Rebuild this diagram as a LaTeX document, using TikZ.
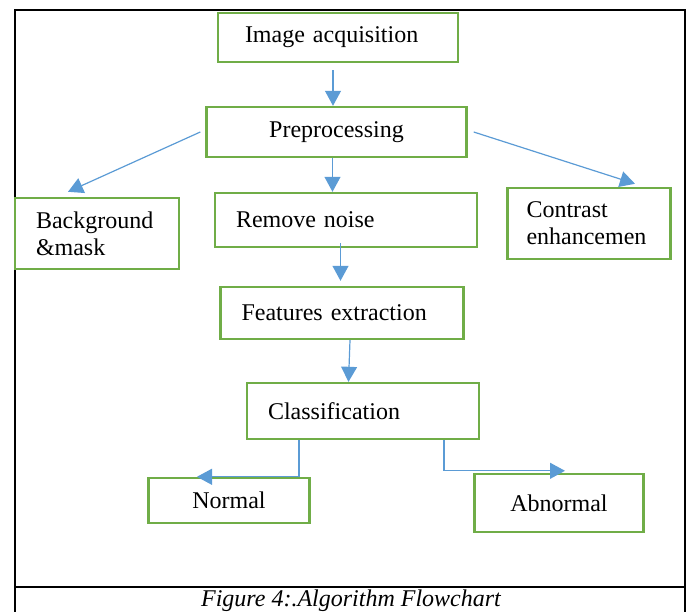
\documentclass[tikz,border=0pt]{standalone}
\usepackage{fontspec}
\setmainfont{Liberation Serif}
\usetikzlibrary{arrows.meta}

\definecolor{boxgreen}{RGB}{112,173,71}
\definecolor{arrblue}{RGB}{91,155,213}

\tikzset{
  stage/.style={draw=boxgreen, line width=2.4pt, rectangle, inner ysep=0pt,
    font=\fontsize{24}{27}\selectfont},
  flow/.style={draw=arrblue, line width=1.2pt, -{Triangle[length=15pt,width=16pt]}, arrblue}
}

\begin{document}
\begin{tikzpicture}[x=1pt, y=-1pt]

\useasboundingbox (0,0) rectangle (689,612);

% outer frame and caption rule
\draw[line width=2pt] (15,612) -- (15,10) -- (685,10) -- (685,612);
\draw[line width=2pt] (15,587) -- (685,587);

% boxes
\node[stage, text width=186pt, inner xsep=27pt, minimum height=49pt, align=left] (img) at (338,37.5) {Image acquisition};
\node[stage, text width=240pt, inner xsep=10pt, minimum height=50pt, align=center] (pre) at (336.5,132) {Preprocessing};
\node[stage, text width=122pt, inner xsep=21pt, minimum height=71pt, align=left] (bg) at (97,233.5) {Background\\\&mask};
\node[stage, text width=220pt, inner xsep=21pt, minimum height=54pt, align=left] (rn) at (346,220) {Remove noise};
\node[stage, text width=125pt, inner xsep=19pt, minimum height=71pt, align=left] (ct) at (589,223.5) {Contrast\\enhancemen};
\node[stage, text width=201pt, inner xsep=21pt, minimum height=52pt, align=left] (fe) at (342,313) {Features extraction};
\node[stage, text width=190pt, inner xsep=21pt, minimum height=56pt, align=left] (cls) at (363,411) {Classification};
\node[stage, text width=141pt, inner xsep=10pt, minimum height=45pt, align=center] (nor) at (229,500.5) {Normal};
\node[stage, text width=149pt, inner xsep=10pt, minimum height=58pt, align=center] (abn) at (559,503) {Abnormal};

% connectors
\draw[flow] ([xshift=-5pt,yshift=-7pt]img.south) -- ([xshift=-5pt]img.south |- pre.north);
\draw[flow] ([xshift=-5pt]pre.west) -- ([xshift=-29pt,yshift=5pt]bg.north);
\draw[flow] ([xshift=-4pt]pre.south) -- ([xshift=-4pt]pre.south |- rn.north);
\draw[flow] ([xshift=6pt]pre.east) -- ([xshift=46pt,yshift=3pt]ct.north);
\draw[flow] ([xshift=-5.5pt,yshift=5pt]rn.south) -- ([xshift=-5.5pt,yshift=5pt]rn.south |- fe.north);
\draw[flow] ([xshift=8pt]fe.south) -- ([xshift=-14.5pt]cls.north);
\draw[flow] ([xshift=-64pt]cls.south) |- ([xshift=-32pt]nor.north);
\draw[flow] ([xshift=81pt]cls.south) |- ([xshift=6pt,yshift=2pt]abn.north);

% caption
\node[font=\fontsize{24}{27}\selectfont\itshape] (cap) at (351,601) {Figure 4:.Algorithm Flowchart};

\end{tikzpicture}
\end{document}
